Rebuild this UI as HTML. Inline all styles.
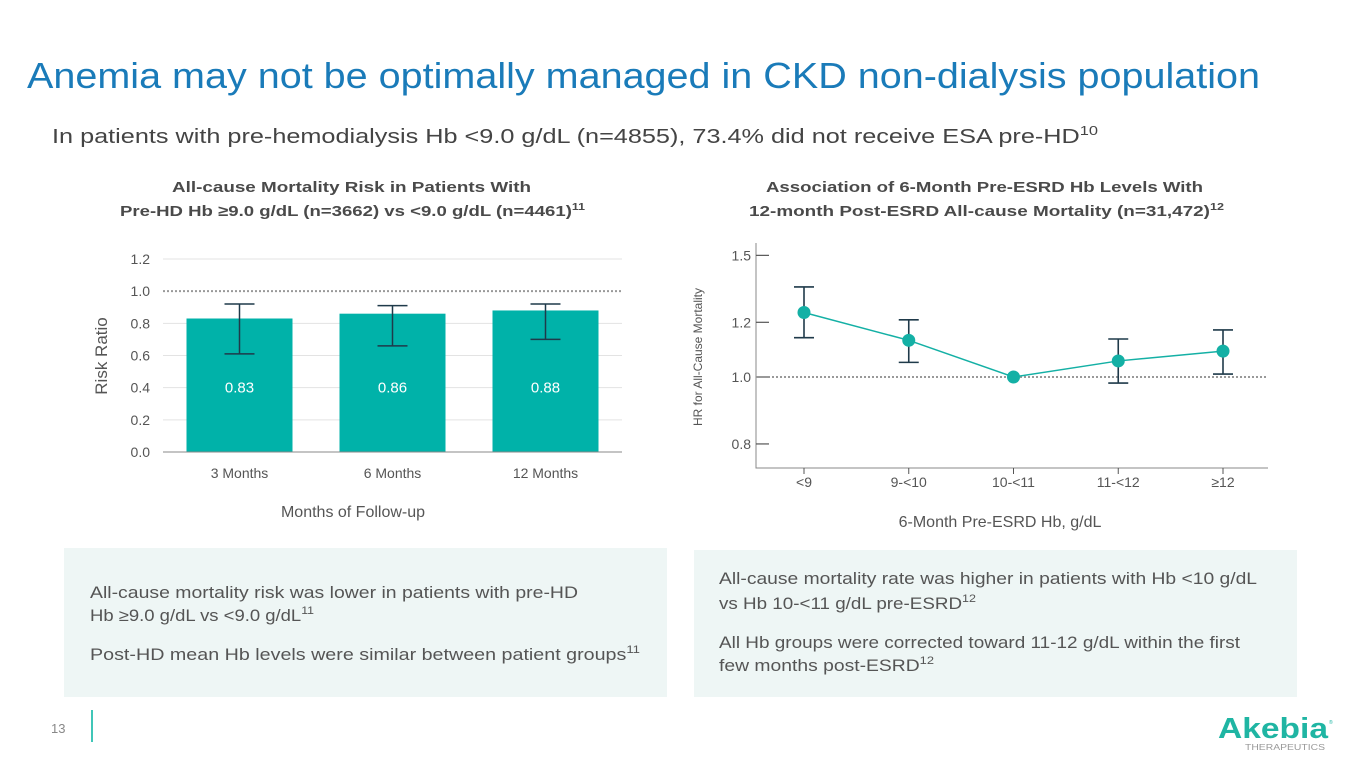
<!DOCTYPE html>
<html><head><meta charset="utf-8"><style>
html,body{margin:0;padding:0;background:#fff;}
svg{display:block;font-family:"Liberation Sans",sans-serif;}
</style></head><body>
<svg id="page" width="1365" height="768" viewBox="0 0 1365 768" xmlns="http://www.w3.org/2000/svg">
<text x="27" y="88" font-size="36" fill="#1a7bb9" textLength="1233" lengthAdjust="spacingAndGlyphs">Anemia may not be optimally managed in CKD non-dialysis population</text>
<text x="52" y="143" font-size="20" fill="#444" textLength="1046" lengthAdjust="spacingAndGlyphs">In patients with pre-hemodialysis Hb &lt;9.0 g/dL (n=4855), 73.4% did not receive ESA pre-HD<tspan font-size="13" dy="-8">10</tspan></text>

<g font-size="15" font-weight="bold" fill="#4a4a4a">
<text x="172" y="192" textLength="359" lengthAdjust="spacingAndGlyphs">All-cause Mortality Risk in Patients With</text>
<text x="120" y="216" textLength="465" lengthAdjust="spacingAndGlyphs">Pre-HD Hb ≥9.0 g/dL (n=3662) vs &lt;9.0 g/dL (n=4461)<tspan font-size="10" dy="-6">11</tspan></text>
</g>
<g font-size="15" font-weight="bold" fill="#4a4a4a">
<text x="766" y="192" textLength="437" lengthAdjust="spacingAndGlyphs">Association of 6-Month Pre-ESRD Hb Levels With</text>
<text x="749" y="216" textLength="475" lengthAdjust="spacingAndGlyphs">12-month Post-ESRD All-cause Mortality (n=31,472)<tspan font-size="10" dy="-6">12</tspan></text>
</g>

<g id="barChart"></g>
<g id="lineChart"></g>

<rect x="64" y="548" width="603" height="149" fill="#eef6f5"/>
<g font-size="16.5" fill="#555">
<text x="90" y="598" textLength="488" lengthAdjust="spacingAndGlyphs">All-cause mortality risk was lower in patients with pre-HD</text>
<text x="90" y="621" textLength="224" lengthAdjust="spacingAndGlyphs">Hb ≥9.0 g/dL vs &lt;9.0 g/dL<tspan font-size="11" dy="-7">11</tspan></text>
<text x="90" y="660" textLength="550" lengthAdjust="spacingAndGlyphs">Post-HD mean Hb levels were similar between patient groups<tspan font-size="11" dy="-7">11</tspan></text>
</g>
<rect x="694" y="550" width="603" height="147" fill="#eef6f5"/>
<g font-size="16.5" fill="#555">
<text x="719" y="584" textLength="538" lengthAdjust="spacingAndGlyphs">All-cause mortality rate was higher in patients with Hb &lt;10 g/dL</text>
<text x="719" y="609" textLength="257" lengthAdjust="spacingAndGlyphs">vs Hb 10-&lt;11 g/dL pre-ESRD<tspan font-size="11" dy="-7">12</tspan></text>
<text x="719" y="648" textLength="521" lengthAdjust="spacingAndGlyphs">All Hb groups were corrected toward 11-12 g/dL within the first</text>
<text x="719" y="671" textLength="215" lengthAdjust="spacingAndGlyphs">few months post-ESRD<tspan font-size="11" dy="-7">12</tspan></text>
</g>

<text x="51" y="733" font-size="13" fill="#888">13</text>
<line x1="92" y1="710" x2="92" y2="742" stroke="#00b2a0" stroke-width="1.5"/>
<g>
<text x="1218" y="738" font-size="29" font-weight="bold" fill="#1fb5a3" textLength="110" lengthAdjust="spacingAndGlyphs">Akebia</text>
<text x="1329" y="724" font-size="5" fill="#1fb5a3">®</text>
<text x="1245" y="750" font-size="8" fill="#999" textLength="80" lengthAdjust="spacingAndGlyphs">THERAPEUTICS</text>
</g>
</svg>
<script>
// ---- Bar chart data ----
const barCategories = ["3 Months", "6 Months", "12 Months"];
const barValues = [0.83, 0.86, 0.88];
const barLow = [0.61, 0.66, 0.70];
const barHigh = [0.92, 0.91, 0.92];
const barTicks = [0.0, 0.2, 0.4, 0.6, 0.8, 1.0, 1.2];
const barLabels = ["0.83", "0.86", "0.88"];

// ---- Line chart data ----
const hbCategories = ["<9", "9-<10", "10-<11", "11-<12", "≥12"];
const hrValues = [1.24, 1.13, 1.0, 1.055, 1.09];
const hrLow = [1.14, 1.05, 1.0, 0.98, 1.01];
const hrHigh = [1.35, 1.21, 1.0, 1.135, 1.17];
const hrTicks = [0.8, 1.0, 1.2, 1.5];
const hrTickLabels = ["0.8", "1.0", "1.2", "1.5"];

const NS = "http://www.w3.org/2000/svg";
function mk(parent, tag, attrs, txt) {
  const e = document.createElementNS(NS, tag);
  for (const k in attrs) e.setAttribute(k, attrs[k]);
  if (txt !== undefined) e.textContent = txt;
  parent.appendChild(e);
  return e;
}

// Bar chart
(function () {
  const g = document.getElementById("barChart");
  const x0 = 163, x1 = 622, yBase = 452, yTop = 259;
  const y = v => yBase - (v / 1.2) * (yBase - yTop);
  const band = (x1 - x0) / barCategories.length;
  const xc = i => x0 + band * (i + 0.5);
  const bw = 106;
  barTicks.forEach((t, i) => {
    if (t > 0 && t !== 1.0) {
      const gl = mk(g, "line", { x1: x0, x2: x1, y1: y(t), y2: y(t), stroke: "#e3e3e3", "stroke-width": 1 });
      
      
    }
    const tl = mk(g, "text", { x: 150, y: y(t) + 5, "font-size": 14, fill: "#555", "text-anchor": "end" }, t.toFixed(1));
    
    
  });
  barValues.forEach((v, i) => {
    const r = mk(g, "rect", { x: xc(i) - bw / 2, y: y(v), width: bw, height: yBase - y(v), fill: "#00b2a9" });
    
    
    const lb = mk(g, "text", { x: xc(i), y: y(0.4) + 5, "font-size": 15, fill: "#fff", "text-anchor": "middle" }, barLabels[i]);
    
    
    const eb = mk(g, "path", { d: `M${xc(i) - 15},${y(barHigh[i])}H${xc(i) + 15}M${xc(i)},${y(barHigh[i])}V${y(barLow[i])}M${xc(i) - 15},${y(barLow[i])}H${xc(i) + 15}`, stroke: "#1f3a4a", "stroke-width": 1.5, fill: "none" });
    
    
    const cl = mk(g, "text", { x: xc(i), y: 478, "font-size": 14, fill: "#555", "text-anchor": "middle" }, barCategories[i]);
    
    
  });
  const ref = mk(g, "line", { x1: x0, x2: x1, y1: y(1.0), y2: y(1.0), stroke: "#999", "stroke-width": 2, "stroke-dasharray": "2,2" });
  
  
  const ax = mk(g, "line", { x1: x0, x2: x1, y1: yBase, y2: yBase, stroke: "#888", "stroke-width": 1 });
  
  
  const yt = mk(g, "text", { x: 0, y: 0, "font-size": 17, fill: "#555", "text-anchor": "middle", transform: "translate(107,356) rotate(-90)" }, "Risk Ratio");
  
  
  const xt = mk(g, "text", { x: 353, y: 517, "font-size": 16, fill: "#555", "text-anchor": "middle" }, "Months of Follow-up");
  
  
})();

// Line chart (log scale)
(function () {
  const g = document.getElementById("lineChart");
  const ax0 = 756, ax1 = 1268, yBot = 468, yTopAx = 243;
  const k = 300, y1 = 377;
  const y = v => y1 - k * Math.log(v);
  const xs = [804, 911, 1011, 1118, 1223];
  const xc = i => xs[0] + (xs[4] - xs[0]) * i / (hbCategories.length - 1);
  const axes = mk(g, "path", { d: `M${ax0},${yTopAx}V${yBot}H${ax1}`, stroke: "#888", "stroke-width": 1, fill: "none" });
  
  
  hrTicks.forEach((t, i) => {
    const tk = mk(g, "line", { x1: ax0, x2: ax0 + 13, y1: y(t), y2: y(t), stroke: "#555", "stroke-width": 1.2 });
    
    
    const tl = mk(g, "text", { x: 751, y: y(t) + 5, "font-size": 14, fill: "#555", "text-anchor": "end" }, hrTickLabels[i]);
    
    
  });
  const ref = mk(g, "line", { x1: ax0, x2: ax1, y1: y(1.0), y2: y(1.0), stroke: "#999", "stroke-width": 2, "stroke-dasharray": "2,2" });
  
  
  hbCategories.forEach((c, i) => {
    const tk = mk(g, "line", { x1: xc(i), x2: xc(i), y1: yBot, y2: yBot + 6, stroke: "#555", "stroke-width": 1 });
    
    
    const tl = mk(g, "text", { x: xc(i), y: 487, "font-size": 14, fill: "#555", "text-anchor": "middle" }, c);
    
    
    if (hrHigh[i] !== hrLow[i]) {
      const eb = mk(g, "path", { d: `M${xc(i) - 10},${y(hrHigh[i])}H${xc(i) + 10}M${xc(i)},${y(hrHigh[i])}V${y(hrLow[i])}M${xc(i) - 10},${y(hrLow[i])}H${xc(i) + 10}`, stroke: "#1f3a4a", "stroke-width": 1.6, fill: "none" });
      
      
    }
  });
  const pts = hrValues.map((v, i) => `${xc(i)},${y(v)}`).join(" ");
  const ln = mk(g, "polyline", { points: pts, fill: "none", stroke: "#14b0a5", "stroke-width": 1.5 });
  
  
  hrValues.forEach((v, i) => {
    const c = mk(g, "circle", { cx: xc(i), cy: y(v), r: 6.5, fill: "#14b0a5" });
    
    
  });
  const yt = mk(g, "text", { x: 0, y: 0, "font-size": 12, fill: "#555", "text-anchor": "middle", transform: "translate(702,357) rotate(-90)" }, "HR for All-Cause Mortality");
  
  
  const xt = mk(g, "text", { x: 1000, y: 527, "font-size": 16, fill: "#555", "text-anchor": "middle" }, "6-Month Pre-ESRD Hb, g/dL");
  
  
})();
</script>
</body></html>
